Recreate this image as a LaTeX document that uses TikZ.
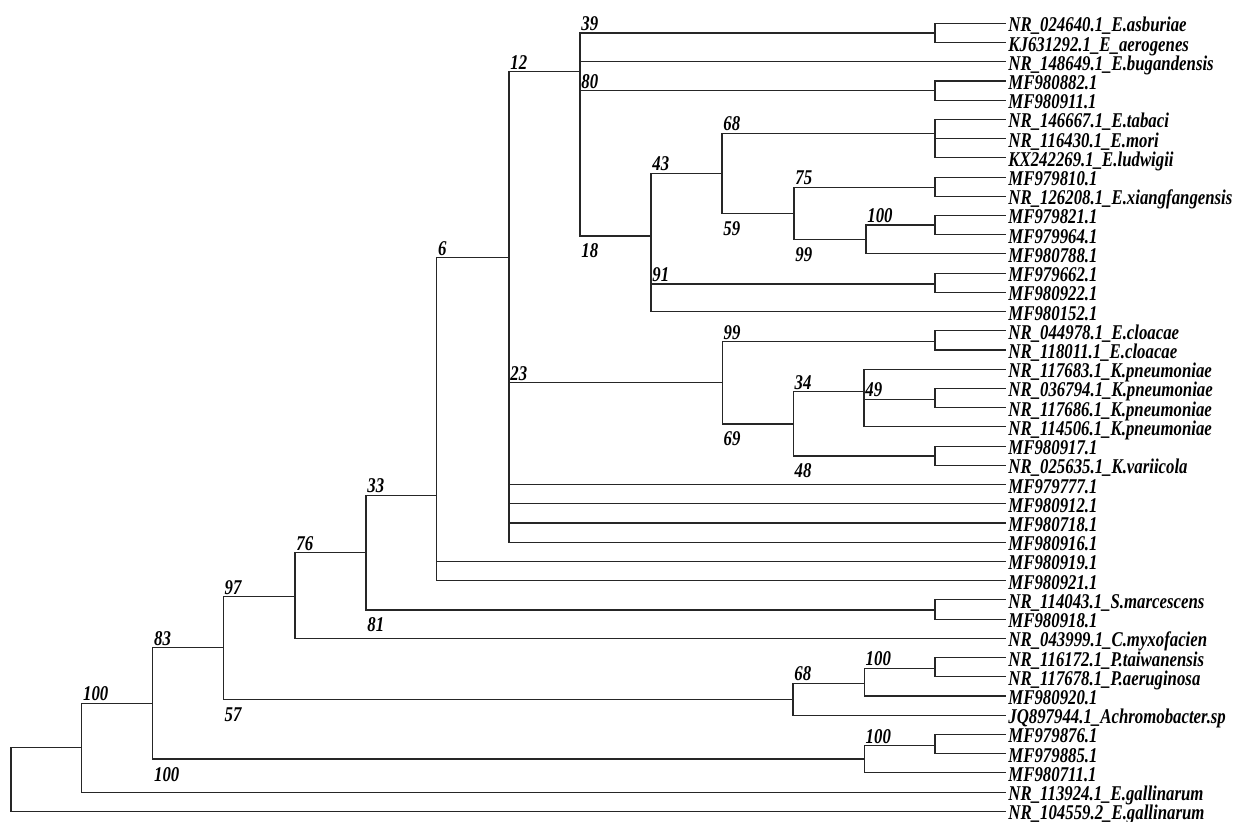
\documentclass[tikz,border=0pt]{standalone}
\usepackage{fontspec}
\setmainfont{Liberation Serif}
\usetikzlibrary{calc}
\newcommand\sq[1]{\scalebox{0.8}[1]{#1}}
\newcommand\bsu[3]{\node[bs] (#1) at ($(#2)+(1,-2.5)$) {\sq{#3}};}
\newcommand\bsd[3]{\node[bs] (#1) at ($(#2)+(1,22)$) {\sq{#3}};}
\newcommand\treeedges[2]{\foreach \c in {#2}{\draw[br] (#1) |- (\c);}}
\begin{document}
\begin{tikzpicture}[x=0.5pt,y=-0.5pt,
  br/.style={draw=black!85,line width=0.55pt},
  lbl/.style={anchor=base west,inner sep=0pt,font=\bfseries\itshape\fontsize{10.5}{12}\selectfont},
  leaf/.style={lbl},
  bs/.style={lbl}]
\useasboundingbox (0,0) rectangle (1236,822);
% leaves
\foreach \n [count=\i from 0] in {
NR\_024640.1\_E.asburiae,
KJ631292.1\_E\_aerogenes,
NR\_148649.1\_E.bugandensis,
MF980882.1,
MF980911.1,
NR\_146667.1\_E.tabaci,
NR\_116430.1\_E.mori,
KX242269.1\_E.ludwigii,
MF979810.1,
NR\_126208.1\_E.xiangfangensis,
MF979821.1,
MF979964.1,
MF980788.1,
MF979662.1,
MF980922.1,
MF980152.1,
NR\_044978.1\_E.cloacae,
NR\_118011.1\_E.cloacae,
NR\_117683.1\_K.pneumoniae,
NR\_036794.1\_K.pneumoniae,
NR\_117686.1\_K.pneumoniae,
NR\_114506.1\_K.pneumoniae,
MF980917.1,
NR\_025635.1\_K.variicola,
MF979777.1,
MF980912.1,
MF980718.1,
MF980916.1,
MF980919.1,
MF980921.1,
NR\_114043.1\_S.marcescens,
MF980918.1,
NR\_043999.1\_C.myxofacien,
NR\_116172.1\_P.taiwanensis,
NR\_117678.1\_P.aeruginosa,
MF980920.1,
JQ897944.1\_Achromobacter.sp,
MF979876.1,
MF979885.1,
MF980711.1,
NR\_113924.1\_E.gallinarum,
NR\_104559.2\_E.gallinarum}{
  \coordinate (l\i) at (1006,{23.3+19.22*\i});
  \node[leaf] (t\i) at (1008,{23.3+19.22*\i+8.5}) {\sq{\n}};
}
% internal nodes
\coordinate (root) at (11,779.5);
\coordinate (I) at (81.7,747.7);
\coordinate (H) at (152.7,703.3);
\coordinate (G) at (223.3,647.7);
\coordinate (F) at (295,596.7);
\coordinate (E) at (366,552.7);
\coordinate (D) at (436.7,495.3);
\coordinate (C) at (509,257.7);
\coordinate (A) at (580,71.7);
\coordinate (B) at (651,236);
\coordinate (R) at (722,173.3);
\coordinate (S) at (794,213.3);
\coordinate (T) at (866,239.3);
\coordinate (Nb) at (722.3,382.7);
\coordinate (Nc) at (793.3,424);
\coordinate (Nd) at (864,391.7);
\coordinate (P) at (793,699.3);
\coordinate (Pt) at (864.3,683.3);
\coordinate (Q) at (864.3,759);
\coordinate (k01) at (935,33);
\coordinate (k34) at (935,90.7);
\coordinate (k567) at (935,133.3);
\coordinate (k89) at (935,187.3);
\coordinate (k1011) at (935,225);
\coordinate (k1314) at (935,284);
\coordinate (k1617) at (935,341.7);
\coordinate (k1920) at (935,399.3);
\coordinate (k2223) at (935,456);
\coordinate (k3031) at (935,610);
\coordinate (k3334) at (935,668.3);
\coordinate (k3738) at (935,745.7);
% branches
\treeedges{root}{I,l41}
\treeedges{I}{H,l40}
\treeedges{H}{G,Q}
\treeedges{G}{F,P}
\treeedges{F}{E,l32}
\treeedges{E}{D,k3031}
\treeedges{D}{C,l28,l29}
\treeedges{C}{A,Nb,l24,l25,l26,l27}
\treeedges{A}{k01,l2,k34,B}
\treeedges{B}{R,k1314,l15}
\treeedges{R}{k567,S}
\treeedges{S}{k89,T}
\treeedges{T}{k1011,l12}
\treeedges{Nb}{k1617,Nc}
\treeedges{Nc}{Nd,k2223}
\treeedges{Nd}{l18,k1920,l21}
\treeedges{P}{Pt,l36}
\treeedges{Pt}{k3334,l35}
\treeedges{Q}{k3738,l39}
\treeedges{k01}{l0,l1}
\treeedges{k34}{l3,l4}
\treeedges{k567}{l5,l6,l7}
\treeedges{k89}{l8,l9}
\treeedges{k1011}{l10,l11}
\treeedges{k1314}{l13,l14}
\treeedges{k1617}{l16,l17}
\treeedges{k1920}{l19,l20}
\treeedges{k2223}{l22,l23}
\treeedges{k3031}{l30,l31}
\treeedges{k3334}{l33,l34}
\treeedges{k3738}{l37,l38}
% bootstrap values
\bsu{b1}{A|-k01}{39}
\bsu{b2}{C|-A}{12}
\bsu{b3}{A|-k34}{80}
\bsu{b4}{R|-k567}{68}
\bsu{b5}{B|-R}{43}
\bsu{b6}{S|-k89}{75}
\bsu{b7}{T|-k1011}{100}
\bsu{b8}{B|-k1314}{91}
\bsu{b9}{D|-C}{6}
\bsu{b10}{Nb|-k1617}{99}
\bsu{b11}{C|-Nb}{23}
\bsu{b12}{Nc|-Nd}{34}
\bsu{b13}{Nd|-k1920}{49}
\bsu{b14}{E|-D}{33}
\bsu{b15}{F|-E}{76}
\bsu{b16}{G|-F}{97}
\bsu{b17}{H|-G}{83}
\bsu{b18}{P|-Pt}{68}
\bsu{b19}{Pt|-k3334}{100}
\bsu{b20}{I|-H}{100}
\bsu{b21}{Q|-k3738}{100}
\bsd{b22}{R|-S}{59}
\bsd{b23}{A|-B}{18}
\bsd{b24}{S|-T}{99}
\bsd{b25}{Nb|-Nc}{69}
\bsd{b26}{Nc|-k2223}{48}
\bsd{b27}{E|-k3031}{81}
\bsd{b28}{G|-P}{57}
\bsd{b29}{H|-Q}{100}
\end{tikzpicture}
\end{document}
